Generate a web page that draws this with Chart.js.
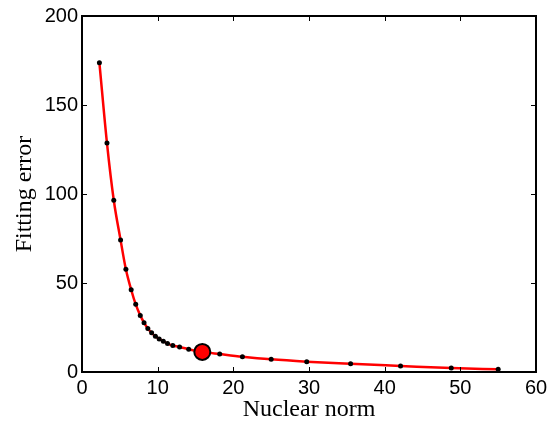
<!DOCTYPE html>
<html>
<head>
<meta charset="utf-8">
<script src="https://cdn.jsdelivr.net/npm/chart.js"></script>
<style>
  html, body { margin: 0; padding: 0; background: #fff; }
  #wrap { width: 560px; height: 424px; position: relative; }
</style>
</head>
<body>
<div id="wrap"><canvas id="lcurve"></canvas></div>
<script>
// L-curve values
const nuclearNorm = [2.3, 3.3, 4.2, 5.1, 5.8, 6.5, 7.1, 7.7, 8.2, 8.7, 9.2, 9.7, 10.2, 10.75, 11.3, 12.0, 12.9, 14.1, 15.9, 18.2, 21.2, 25.0, 29.7, 35.5, 42.1, 48.8, 55.0];
const fittingError = [173.7, 128.6, 96.5, 74.1, 57.7, 46.2, 38.0, 31.8, 27.7, 24.4, 22.0, 20.1, 18.6, 17.3, 16.0, 14.9, 14.0, 12.8, 11.3, 10.1, 8.6, 7.1, 5.8, 4.6, 3.4, 2.2, 1.5];
const chosenPoint = [15.9, 11.3];
const xTicks = [0, 10, 20, 30, 40, 50, 60];
const yTicks = [0, 50, 100, 150, 200];

const tickFont = { family: '"Liberation Sans", Arial, sans-serif', size: 20 };
const titleFont = { family: '"Liberation Serif", "Times New Roman", serif', size: 24 };

// MATLAB-style box with inward ticks
const boxTicks = {
  id: 'boxTicks',
  afterDraw(chart) {
    const { ctx, chartArea: a, scales } = chart;
    ctx.save();
    ctx.strokeStyle = '#000';
    ctx.lineWidth = 1;
    ctx.beginPath();
    xTicks.forEach(v => {
      const px = Math.round(scales.x.getPixelForValue(v)) + 0.5;
      ctx.moveTo(px, a.bottom); ctx.lineTo(px, a.bottom - 5);
      ctx.moveTo(px, a.top); ctx.lineTo(px, a.top + 5);
    });
    yTicks.forEach(v => {
      const py = Math.round(scales.y.getPixelForValue(v)) + 0.5;
      ctx.moveTo(a.left, py); ctx.lineTo(a.left + 5, py);
      ctx.moveTo(a.right, py); ctx.lineTo(a.right - 5, py);
    });
    ctx.stroke();
    ctx.lineWidth = 2;
    ctx.strokeRect(a.left, a.top, a.right - a.left, a.bottom - a.top);
    ctx.restore();
  }
};

new Chart(document.getElementById('lcurve'), {
  type: 'scatter',
  data: {
    datasets: [
      {
        data: [{ x: chosenPoint[0], y: chosenPoint[1] }],
        pointRadius: 8,
        pointBackgroundColor: '#ff0000',
        pointBorderColor: '#000',
        pointBorderWidth: 2,
        showLine: false
      },
      {
        data: nuclearNorm.map((x, i) => ({ x: x, y: fittingError[i] })),
        showLine: true,
        borderColor: '#ff0000',
        borderWidth: 2.5,
        cubicInterpolationMode: 'monotone',
        pointRadius: 2.5,
        pointBackgroundColor: '#000',
        pointBorderColor: '#000',
        pointBorderWidth: 0
      }
    ]
  },
  options: {
    responsive: true,
    maintainAspectRatio: false,
    animation: false,
    layout: { padding: { top: 14, right: 24, left: 0, bottom: 0 } },
    plugins: { legend: { display: false }, tooltip: { enabled: false } },
    scales: {
      x: {
        type: 'linear', min: 0, max: 60,
        afterBuildTicks: s => { s.ticks = xTicks.map(v => ({ value: v })); },
        afterFit: s => { s.height = 52; },
        grid: { display: false, drawTicks: false },
        border: { display: false },
        ticks: { font: tickFont, color: '#000', padding: 4 },
        title: { display: true, text: 'Nuclear norm', font: titleFont, color: '#000', padding: { top: -6, bottom: 0 } }
      },
      y: {
        type: 'linear', min: 0, max: 200,
        afterBuildTicks: s => { s.ticks = yTicks.map(v => ({ value: v })); },
        afterFit: s => { s.width = 82; },
        grid: { display: false, drawTicks: false },
        border: { display: false },
        ticks: { font: tickFont, color: '#000', padding: 4 },
        title: { display: true, text: 'Fitting error', font: titleFont, color: '#000', padding: { top: 10, bottom: 0 } }
      }
    }
  },
  plugins: [boxTicks]
});
</script>
</body>
</html>
